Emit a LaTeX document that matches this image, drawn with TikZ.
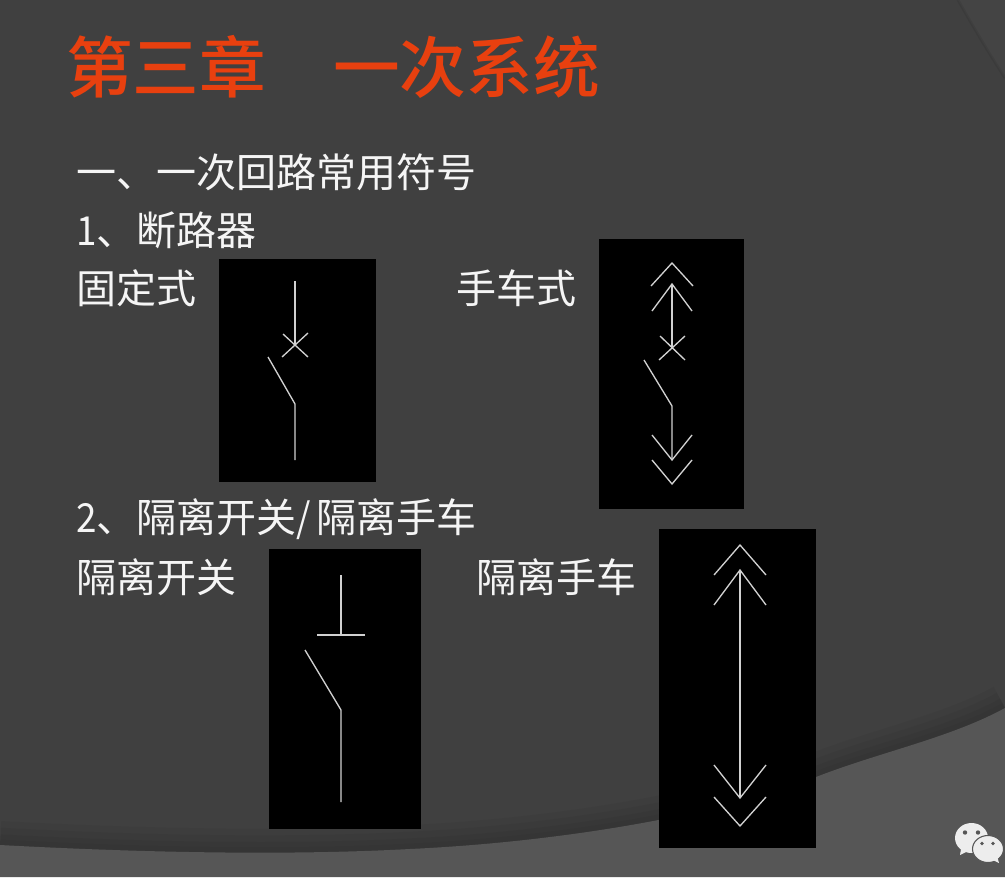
\documentclass[tikz,border=0pt]{standalone}
\usepackage{fontspec}
\setmainfont{Noto Sans CJK SC}
\newfontfamily\titlefont{Noto Sans CJK SC Medium}
\newcommand{\halfw}[1]{\makebox[15pt][l]{\scalebox{0.92}[1]{#1}}}
\begin{document}
\begin{tikzpicture}[x=0.75pt,y=-0.75pt,
  body/.style={anchor=west,inner sep=0pt,text=white!96!black,font=\fontsize{30}{32}\selectfont},
  heading/.style={anchor=west,inner sep=0pt,text=titlered,font=\titlefont\fontsize{50}{52}\selectfont},
  panel/.style={fill=black,draw=none},
  wire/.style={draw=white!82!black,line width=1pt,line join=miter},
  bubble/.style={fill=white!93!black}]
\definecolor{bgdark}{HTML}{404040}
\definecolor{bgmid}{HTML}{444444}
\definecolor{bglight}{HTML}{565656}
\definecolor{titlered}{HTML}{E8400F}
\useasboundingbox (0,0) rectangle (1005,877);
\fill[bgdark] (0,0) rectangle (1005,877);
% background swooshes
\fill[bgmid] (958,0) .. controls (975,30) and (990,55) .. (1005,78) -- (1005,0) -- cycle;
\draw[black,opacity=0.07,line width=2pt] (958,0) .. controls (975,30) and (990,55) .. (1005,78);
\foreach \w in {36,26,16,8}{
  \draw[black,opacity=0.035,line width=\w pt] (0,845) .. controls (130,852) and (280,856) .. (410,849) .. controls (560,842) and (720,815) .. (816,777) .. controls (880,752) and (950,738) .. (1005,708);
}
\fill[bglight] (0,877) -- (0,845) .. controls (130,852) and (280,856) .. (410,849) .. controls (560,842) and (720,815) .. (816,777) .. controls (880,752) and (950,738) .. (1005,708) -- (1005,877) -- cycle;
% texts
\node[heading] (t1) at (66,67) {第三章};
\node[heading] (t2) at (333,67) {一次系统};
\node[body] (h1) at (76,172) {一、一次回路常用符号};
\node[body] (h2) at (76,230) {\halfw{1}、断路器};
\node[body] (l1) at (76,288) {固定式};
\node[body] (l2) at (456,288) {手车式};
\node[body] (h3) at (76,519) {\halfw{2}、隔离开关\halfw{/}隔离手车};
\node[body] (l3) at (76,577) {隔离开关};
\node[body] (l4) at (476,577) {隔离手车};
% panels
\fill[panel] (219,259) rectangle (376,482);
\fill[panel] (599,239) rectangle (744,509);
\fill[panel] (269,549) rectangle (421,829);
\fill[panel] (659,529) rectangle (816,848);
% fixed breaker
\draw[wire] (295,281) -- (295,345);
\draw[wire] (283,334) -- (308,357) (282,357) -- (308,333);
\draw[wire] (268,357) -- (295,404) -- (295,460);
% withdrawable breaker
\draw[wire] (651,286) -- (672,263) -- (693,286);
\draw[wire] (652,311) -- (672,284) -- (692,311);
\draw[wire] (672,284) -- (672,348);
\draw[wire] (660,336) -- (685,360) (659,360) -- (685,336);
\draw[wire] (644,360) -- (672,406) -- (672,460);
\draw[wire] (652,435) -- (672,460) -- (692,435);
\draw[wire] (652,460) -- (672,484) -- (692,460);
% disconnector
\draw[wire] (341,575) -- (341,635);
\draw[wire] (317,635) -- (365,635);
\draw[wire] (305,650) -- (341,710) -- (341,802);
% withdrawable disconnector
\draw[wire] (714,575) -- (740,545) -- (766,575);
\draw[wire] (714,605) -- (740,570) -- (766,605);
\draw[wire] (740,570) -- (740,798);
\draw[wire] (714,765) -- (740,798) -- (766,765);
\draw[wire] (714,797) -- (740,826) -- (766,797);
% chat mark
\fill[bubble] (971.5,838) ellipse [x radius=16.5,y radius=15];
\fill[bubble] (961,849) -- (960,855) -- (968,851) -- cycle;
\fill[bubble,draw=bglight,line width=0.8pt] (988,849) ellipse [x radius=15.5,y radius=13.5];
\fill[bubble] (993,860) -- (999,863) -- (997,856) -- cycle;
\fill[bglight] (965,832.5) circle (2.2) (978,832.5) circle (2.2) (982,843.5) circle (1.8) (993,843.5) circle (1.8);
\end{tikzpicture}
\end{document}
